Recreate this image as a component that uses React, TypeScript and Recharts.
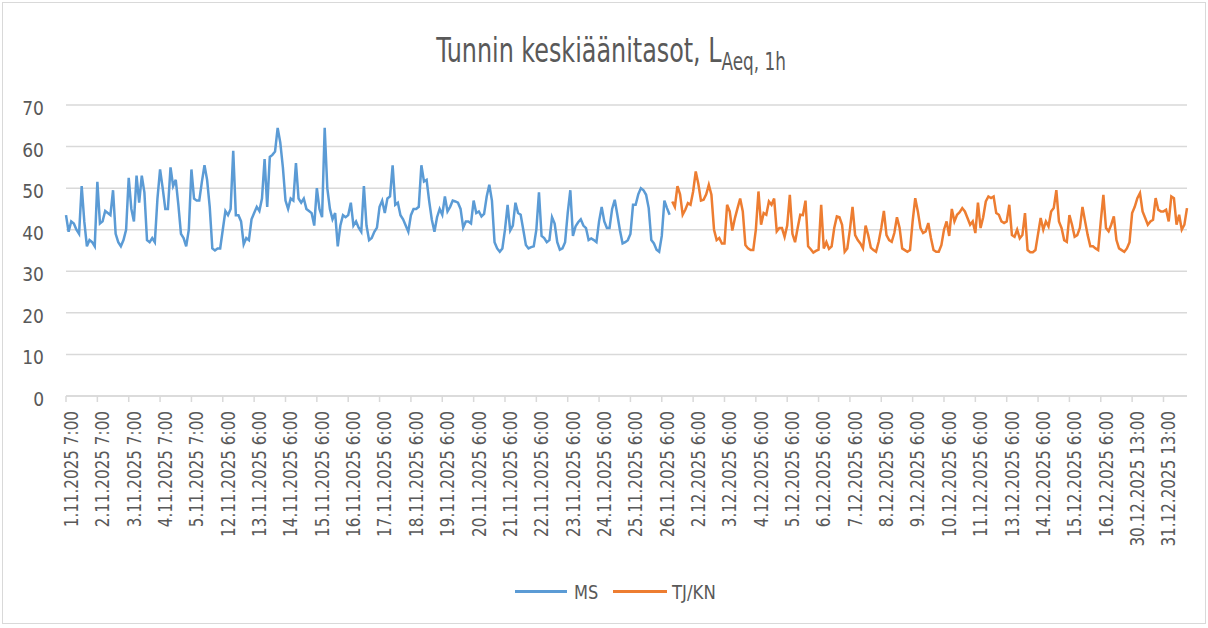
import { LineChart, Line, XAxis, YAxis, CartesianGrid } from 'recharts';

const FONT = "'Liberation Sans Narrow', 'DejaVu Sans Condensed', sans-serif";
const TEXT = '#595959';
const GRID = '#d9d9d9';
const BLUE = '#5b9bd5';
const ORANGE = '#ed7d31';

// one label per measuring day, points are 2 h apart
const POINTS_PER_DAY = 12;
const DAY_LABELS = [
  '1.11.2025 7:00', '2.11.2025 7:00', '3.11.2025 7:00', '4.11.2025 7:00', '5.11.2025 7:00',
  '12.11.2025 6:00', '13.11.2025 6:00', '14.11.2025 6:00', '15.11.2025 6:00', '16.11.2025 6:00',
  '17.11.2025 6:00', '18.11.2025 6:00', '19.11.2025 6:00', '20.11.2025 6:00', '21.11.2025 6:00',
  '22.11.2025 6:00', '23.11.2025 6:00', '24.11.2025 6:00', '25.11.2025 6:00', '26.11.2025 6:00',
  '2.12.2025 6:00', '3.12.2025 6:00', '4.12.2025 6:00', '5.12.2025 6:00', '6.12.2025 6:00',
  '7.12.2025 6:00', '8.12.2025 6:00', '9.12.2025 6:00', '10.12.2025 6:00', '11.12.2025 6:00',
  '13.12.2025 6:00', '14.12.2025 6:00', '15.12.2025 6:00', '16.12.2025 6:00',
  '30.12.2025 13:00', '31.12.2025 13:00',
];
const Y_TICKS = [0, 10, 20, 30, 40, 50, 60, 70];

const MS = [
  43.5, 39.5, 42, 41.5, 40, 39, 50.5, 42, 36, 37.5, 37,
  36, 51.5, 41.5, 42, 44.5, 44, 43.5, 49.5, 39, 37,
  36, 37.5, 40, 52.5, 45, 42, 53, 46.5, 53, 49,
  37.5, 37, 38, 37, 47.5, 54.5, 50, 45, 45, 55,
  50.5, 52, 46, 39, 38, 36, 40, 54.5, 47.5, 47,
  47, 51.5, 55.5, 52, 45.5, 35.5, 35, 35.5, 35.5, 40,
  44.5, 43.5, 45, 59, 43.5, 43.5, 42, 36.5, 38, 37.5,
  42.5, 44, 45.5, 44.5, 47.5, 57, 45.5, 57.5, 58, 58.8,
  64.5, 61, 55, 47, 45, 47.5, 47, 56, 47.5, 46.5,
  47.5, 45, 44.5, 44, 41, 50, 45, 43, 64.5, 50,
  45, 42.5, 44, 36, 41, 43.5, 43, 43.5, 46.5, 41,
  42, 40.5, 39.5, 50.5, 41, 37.5, 38, 39.5, 40.5, 45.5,
  47, 44, 47.5, 48, 55.5, 46, 46.5, 43.5, 42.5, 41,
  39.5, 43.5, 45, 45, 45.5, 55.5, 51.6, 52, 46.8, 42.4,
  39.5,
  43, 45, 43.6, 48, 44.4, 45.5, 47, 46.8, 46.5, 45,
  40.5, 42, 42, 41.5, 47, 44, 44.4, 43.2, 43.8, 48,
  50.8, 47, 37, 35.5, 34.7, 35.5, 40, 46, 39.8, 41,
  46.5, 44, 43.6, 40, 36.3, 35.5, 35.8, 36, 40, 49,
  38.5, 38, 37, 37.5, 43, 41.5, 37, 35.2, 35.5, 37,
  44, 49.5, 38.5, 40.8, 41.8, 42.5, 41, 40.4, 37.5, 37.9,
  37.5, 37, 42, 45.5, 42, 40.4, 40.4, 45, 47.2, 43.6, 39.8,
  36.7, 37, 37.5, 39, 46, 46, 48.5, 50, 49.5, 48.4,
  45.2, 37.5, 36.7, 35.2, 34.7, 38.5, 47, 45.2, 43.6,
];

const TJKN = [
  46.8, 45.5, 50.5, 48.5, 43.6, 44.8, 46.4, 46, 49.2, 54,
  51, 47, 47.2, 48.5, 50.8, 48.4, 40, 37.5, 38, 36.7,
  36.7, 46, 44.4, 39.8, 42.8, 45.2, 47.5, 44.4, 36.3, 35.5,
  35.1, 35.1, 40, 49.2, 41.2, 44, 43.6, 46.8, 46, 47.5,
  39.6, 40.4, 40.4, 38.3, 41, 48.4, 39, 37, 40.4, 43.6, 43.5, 47,
  36, 35.3, 34.5, 34.9, 35.2, 46, 35.5, 37, 35.4, 36,
  40.4, 43.2, 43, 41.2, 34.7, 35.5, 40, 45.5, 38.7, 37.5,
  36.7, 35.5, 41, 38.7, 35.7, 35.1, 34.7, 37.1, 40.4, 44.5,
  38.7, 37.5, 37.1, 39.2, 43, 40.5, 35.5, 35.1, 34.7, 35.1,
  42, 47.6, 44.4, 40.4, 39.2, 39.6, 41.6, 38, 35.1, 34.7,
  34.7, 36.3, 40, 42, 38.5, 45, 42, 43.6, 44.2, 45.2,
  44.4, 42.8, 41.2, 42, 39.2, 46.5, 40.4, 43, 46.8, 48, 47.6,
  48, 44, 43.6, 42, 41.6, 42, 46, 38.7, 38.3, 40,
  37.9, 38.7, 44, 35.1, 34.6, 34.6, 35.1, 39, 42.8, 40,
  42, 40.8, 44.4, 45.2, 49.5, 42, 40.4, 37.5, 37.1, 43.5,
  41.2, 38.3, 38.7, 40.4, 45.5, 42, 38.7, 36, 36, 35.5,
  35.1, 42, 48.4, 40.4, 39.6, 41.2, 43.2, 37.5, 35.5, 35.1,
  34.7, 35.5, 37, 44, 45.5, 47.6, 48.8, 44.4, 42.8, 41.2,
  42, 42.4, 47.6, 44.8, 44.4, 44.4, 44.8, 42, 48, 47.6,
  41.2, 43.6, 40, 41.2, 45.2,
];

const data = [...MS, ...TJKN].map((_, t) => ({
  t,
  ms: t < MS.length ? MS[t] : null,
  tjkn: t >= MS.length ? TJKN[t - MS.length] : null,
}));

// the reference uses a narrow font, so glyphs are squeezed horizontally
const DayTick = ({ x, y, payload }: any) => (
  <text
    transform={`translate(${x + 5},${y + 7}) rotate(-90) scale(0.89,1)`}
    textAnchor="end"
    dominantBaseline="central"
    fill={TEXT}
    fontSize={19}
    fontFamily={FONT}
  >
    {DAY_LABELS[Math.round(payload.value / POINTS_PER_DAY)]}
  </text>
);

const LevelTick = ({ x, y, payload }: any) => (
  <text x={x - 14} y={y + 3} textAnchor="end" dominantBaseline="central" fill={TEXT} fontSize={19} fontFamily={FONT}>
    {payload.value}
  </text>
);

export default function App() {
  return (
    <div style={{ position: 'absolute', left: 0, top: 0, width: 1208, height: 628, background: '#fff' }}>
      <div style={{ position: 'absolute', left: 2, top: 2, width: 1202, height: 620, border: `1px solid ${GRID}` }} />
      <LineChart width={1208} height={628} data={data} margin={{ top: 105, right: 21, bottom: 52, left: 0 }}>
        <CartesianGrid vertical={false} stroke={GRID} strokeWidth={1.5} />
        <XAxis
          dataKey="t"
          type="category"
          interval={POINTS_PER_DAY - 1}
          height={180}
          tick={(p: any) => <DayTick {...p} />}
          tickSize={6}
          tickLine={{ stroke: GRID, strokeWidth: 1.5 }}
          axisLine={{ stroke: GRID, strokeWidth: 1.5 }}
        />
        <YAxis
          width={66}
          domain={[0, 70]}
          ticks={Y_TICKS}
          axisLine={false}
          tickLine={false}
          tick={(p: any) => <LevelTick {...p} />}
        />
        <Line dataKey="ms" name="MS" stroke={BLUE} strokeWidth={2.5} dot={false} type="linear" isAnimationActive={false} />
        <Line dataKey="tjkn" name="TJ/KN" stroke={ORANGE} strokeWidth={2.5} dot={false} type="linear" isAnimationActive={false} />
      </LineChart>
      <svg width={1208} height={628} style={{ position: 'absolute', left: 0, top: 0, pointerEvents: 'none' }}>
        <text transform="translate(611,62) scale(0.78,1)" textAnchor="middle" fill={TEXT} fontSize={34} fontFamily={FONT}>
          Tunnin keskiäänitasot, L
          <tspan fontSize={24} dy={8}>Aeq, 1h</tspan>
        </text>
        <line x1={515} y1={591.5} x2={567} y2={591.5} stroke={BLUE} strokeWidth={3} />
        <text transform="translate(574,599) scale(0.9,1)" fill={TEXT} fontSize={20} fontFamily={FONT}>MS</text>
        <line x1={613} y1={591.5} x2={667} y2={591.5} stroke={ORANGE} strokeWidth={3} />
        <text transform="translate(672,599) scale(0.92,1)" fill={TEXT} fontSize={20} fontFamily={FONT}>TJ/KN</text>
      </svg>
    </div>
  );
}
